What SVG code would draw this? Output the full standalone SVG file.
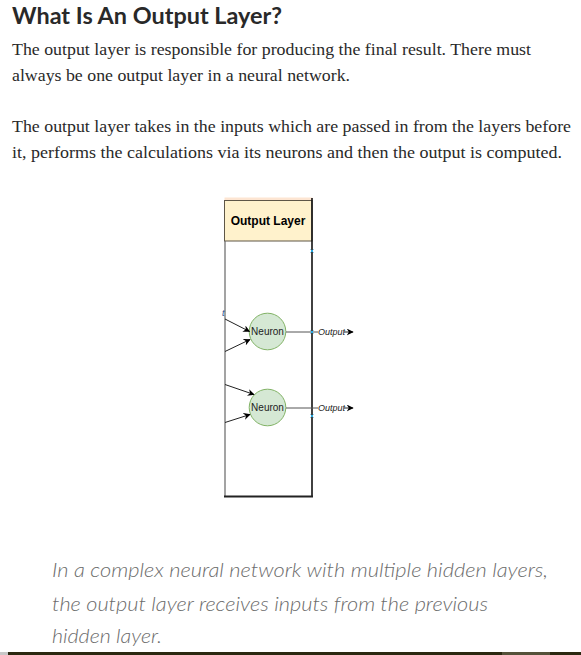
<svg xmlns="http://www.w3.org/2000/svg" width="581" height="655" viewBox="0 0 581 655">
<style>
.title{font-family:"Lato","Open Sans",sans-serif;font-weight:700;font-size:23px;fill:#292929}
.body{font-family:"Liberation Serif",serif;font-size:16.5px;fill:#292929}
.quote{font-family:"Lato","Open Sans",sans-serif;font-weight:300;font-style:italic;font-size:20.5px;fill:#6b6b6b}
.hdr{font-family:"Liberation Sans",Arial,sans-serif;font-weight:700;font-size:12px;fill:#000}
.neu{font-family:"Liberation Sans",Arial,sans-serif;font-size:10px;fill:#222}
.out{font-family:"Liberation Sans",Arial,sans-serif;font-style:italic;font-size:9px;fill:#222}
.neuron{fill:#d5e8d4;stroke:#82b366;stroke-width:1}
.conn{stroke:#222;stroke-width:1;fill:none}
.pt{stroke:#29a8e0;stroke-width:1}
</style>
<defs>
<marker id="ah" viewBox="0 0 10 10" refX="9" refY="5" markerWidth="7" markerHeight="7" markerUnits="userSpaceOnUse" orient="auto">
<path d="M0,0 L10,5 L0,10 L3,5 Z" fill="#000"/>
</marker>
</defs>
<rect width="581" height="655" fill="#fff"/>
<g id="text">
<text class="title" x="12" y="24" textLength="270" lengthAdjust="spacingAndGlyphs">What Is An Output Layer?</text>
<text class="body" x="12" y="55" textLength="519" lengthAdjust="spacingAndGlyphs">The output layer is responsible for producing the final result. There must</text>
<text class="body" x="12" y="81" textLength="338" lengthAdjust="spacingAndGlyphs">always be one output layer in a neural network.</text>
<text class="body" x="12" y="132" textLength="559" lengthAdjust="spacingAndGlyphs">The output layer takes in the inputs which are passed in from the layers before</text>
<text class="body" x="12" y="158" textLength="550" lengthAdjust="spacingAndGlyphs">it, performs the calculations via its neurons and then the output is computed.</text>
<text class="quote" x="52" y="577" textLength="496" lengthAdjust="spacingAndGlyphs">In a complex neural network with multiple hidden layers,</text>
<text class="quote" x="52" y="611" textLength="436" lengthAdjust="spacingAndGlyphs">the output layer receives inputs from the previous</text>
<text class="quote" x="52" y="643" textLength="110" lengthAdjust="spacingAndGlyphs">hidden layer.</text>
</g>
<g id="output-layer">
<rect x="224.5" y="197.5" width="88" height="3" fill="#fde5d2"/>
<rect x="224.5" y="200.5" width="87.5" height="40.5" fill="#fff2cc" stroke="#5f5747" stroke-width="1"/>
<text class="hdr" x="268" y="225" text-anchor="middle">Output Layer</text>
<line x1="225" y1="241" x2="225" y2="497" stroke="#666" stroke-width="1.2"/>
<line x1="312" y1="198" x2="312" y2="497" stroke="#111" stroke-width="1.6"/>
<line x1="224" y1="496.5" x2="313" y2="496.5" stroke="#222" stroke-width="2"/>
<text class="out" x="222" y="316" fill="#1f5f9f" style="fill:#1f4f8f">t</text>
</g>
<g id="neuron1">
<circle class="neuron" cx="267.5" cy="331.5" r="18.3"/>
<text class="neu" x="267.5" y="335" text-anchor="middle">Neuron</text>
</g>
<g id="neuron2">
<circle class="neuron" cx="267.5" cy="407.5" r="18.3"/>
<text class="neu" x="267.5" y="411" text-anchor="middle">Neuron</text>
</g>
<g id="connectors">
<line class="conn" x1="225" y1="319" x2="249.5" y2="331.5" marker-end="url(#ah)"/>
<line class="conn" x1="225" y1="351.5" x2="250" y2="339.5" marker-end="url(#ah)"/>
<line class="conn" x1="225" y1="384.5" x2="254" y2="394.5" marker-end="url(#ah)"/>
<line class="conn" x1="225" y1="422.5" x2="250" y2="414.5" marker-end="url(#ah)"/>
<line x1="286" y1="332" x2="318" y2="332" stroke="#555" stroke-width="1"/>
<line x1="286" y1="408" x2="318" y2="408" stroke="#555" stroke-width="1"/>
<text class="out" x="318" y="335">Output</text>
<text class="out" x="318" y="411">Output</text>
<line class="conn" x1="344" y1="332" x2="353" y2="332" marker-end="url(#ah)"/>
<line class="conn" x1="344" y1="408" x2="353" y2="408" marker-end="url(#ah)"/>
<path class="pt" d="M310.5,249.5 l3,3 M313.5,249.5 l-3,3 M310.5,330.5 l3,3 M313.5,330.5 l-3,3 M310.5,414.5 l3,3 M313.5,414.5 l-3,3"/>
</g>
<g id="rule">
<rect x="0" y="652" width="8" height="3" fill="#c8c8c8"/>
<rect x="8" y="652" width="573" height="3" fill="#2b2810"/>
<rect x="502" y="652" width="48" height="3" fill="#55523a"/>
</g>
</svg>
